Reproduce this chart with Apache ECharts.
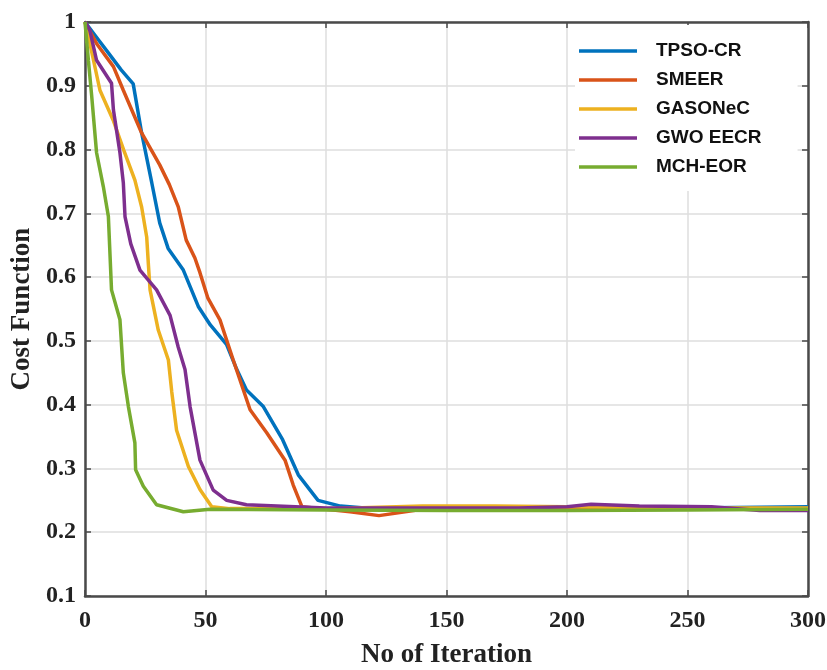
<!DOCTYPE html>
<html>
<head>
<meta charset="utf-8">
<script src="https://cdn.jsdelivr.net/npm/echarts@6/dist/echarts.min.js"></script>
<style>html,body{margin:0;padding:0;background:#fff;}#c{width:827px;height:670px;}</style>
</head>
<body>
<div id="c"></div>
<script>
const seriesNames = ['TPSO-CR', 'SMEER', 'GASONeC', 'GWO EECR', 'MCH-EOR'];
const colors = ['#0072BD', '#D95319', '#EDB120', '#7E2F8E', '#77AC30'];
const xTicks = [0, 50, 100, 150, 200, 250, 300];
const yTicks = [0.1, 0.2, 0.3, 0.4, 0.5, 0.6, 0.7, 0.8, 0.9, 1];

const tpsoX = [0, 5, 10, 15, 20, 23.5, 27.7, 31, 34.5, 40.8, 47, 52, 58.8, 63, 67, 74, 82, 88.5, 96.7, 106, 120, 150, 200, 250, 300];
const tpsoY = [1, 0.975, 0.95, 0.925, 0.903, 0.826, 0.748, 0.685, 0.645, 0.611, 0.554, 0.525, 0.494, 0.455, 0.423, 0.397, 0.345, 0.29, 0.25, 0.241, 0.237, 0.237, 0.237, 0.238, 0.24];

const smeerX = [0, 5, 11.8, 15.9, 23.5, 31, 35, 38.7, 42, 45.6, 47.7, 51, 56, 61.5, 68.5, 75.4, 83, 86.4, 90, 100, 110, 122, 140, 160, 200, 250, 300];
const smeerY = [1, 0.965, 0.93, 0.893, 0.826, 0.776, 0.745, 0.71, 0.658, 0.63, 0.607, 0.567, 0.533, 0.47, 0.392, 0.356, 0.313, 0.274, 0.24, 0.236, 0.232, 0.226, 0.236, 0.238, 0.238, 0.237, 0.237];

const gasoX = [0, 2, 6.2, 11.7, 16, 20.7, 23.5, 25.6, 26.3, 27, 30.4, 34.6, 36, 38, 42.9, 47.7, 52.6, 60, 100, 140, 170, 200, 250, 300];
const gasoY = [1, 0.967, 0.893, 0.846, 0.8, 0.752, 0.71, 0.663, 0.62, 0.58, 0.517, 0.47, 0.42, 0.36, 0.303, 0.267, 0.24, 0.237, 0.237, 0.241, 0.241, 0.24, 0.238, 0.238];

const gwoX = [0, 2, 4.8, 11, 11.8, 14.5, 15.9, 16.6, 19, 22.8, 29.7, 35.3, 38.7, 41.5, 43.6, 47.7, 53.2, 58.8, 67, 100, 180, 200, 210, 230, 260, 280, 300];
const gwoY = [1, 0.987, 0.94, 0.904, 0.862, 0.795, 0.748, 0.695, 0.652, 0.611, 0.58, 0.54, 0.49, 0.455, 0.397, 0.313, 0.266, 0.25, 0.243, 0.238, 0.238, 0.24, 0.244, 0.241, 0.24, 0.234, 0.234];

const mchX = [0, 1.4, 2.8, 4.8, 7.6, 9.7, 11, 14.5, 15.9, 18, 20.7, 21, 24.2, 29.7, 40.8, 51.9, 100, 150, 200, 250, 300];
const mchY = [1, 0.94, 0.883, 0.795, 0.742, 0.695, 0.58, 0.533, 0.45, 0.397, 0.34, 0.298, 0.272, 0.243, 0.232, 0.236, 0.235, 0.234, 0.234, 0.235, 0.236];

const allX = [tpsoX, smeerX, gasoX, gwoX, mchX];
const allY = [tpsoY, smeerY, gasoY, gwoY, mchY];

const chart = echarts.init(document.getElementById('c'), null, {renderer: 'canvas'});
const serif = '"Liberation Serif", "Times New Roman", serif';
const axisLineStyle = {color: '#4a4a4a', width: 2.5};
const gridStyle = {color: '#dedede', width: 1.5};

function baseX(pos, show) {
  return {
    type: 'value', position: pos, min: xTicks[0], max: xTicks[xTicks.length - 1], interval: 50,
    axisLine: {show: true, onZero: false, lineStyle: axisLineStyle},
    axisTick: {show: true, inside: true, length: 6, lineStyle: {color: '#4a4a4a', width: 1.5}},
    axisLabel: {show: show, margin: 13, fontFamily: serif, fontWeight: 'bold', fontSize: 24, color: '#222'},
    splitLine: {show: show, lineStyle: gridStyle}
  };
}
function baseY(pos, show) {
  return {
    type: 'value', position: pos, min: yTicks[0], max: yTicks[yTicks.length - 1], interval: 0.1,
    axisLine: {show: true, onZero: false, lineStyle: axisLineStyle},
    axisTick: {show: true, inside: true, length: 6, lineStyle: {color: '#4a4a4a', width: 1.5}},
    axisLabel: {show: show, margin: 9, fontFamily: serif, fontWeight: 'bold', fontSize: 24, color: '#222',
      formatter: v => String(+v.toFixed(1))},
    splitLine: {show: show, lineStyle: gridStyle}
  };
}

const xMain = Object.assign(baseX('bottom', true), {
  name: 'No of Iteration', nameLocation: 'middle', nameGap: 46,
  nameTextStyle: {fontFamily: serif, fontWeight: 'bold', fontSize: 27, color: '#222'}
});
const yMain = Object.assign(baseY('left', true), {
  name: 'Cost Function', nameLocation: 'middle', nameGap: 44,
  nameTextStyle: {fontFamily: serif, fontWeight: 'bold', fontSize: 27, color: '#222'}
});

chart.setOption({
  animation: false,
  backgroundColor: '#fff',
  color: colors,
  grid: {left: 85, right: 19, top: 22, bottom: 74, containLabel: false, outerBoundsMode: 'none'},
  legend: {
    orient: 'vertical', left: 575, top: 25,
    padding: [16, 36, 14, 4],
    backgroundColor: '#fff',
    itemWidth: 58, itemHeight: 20, itemGap: 9,
    icon: 'path://M0,8.25 L58,8.25 L58,11.75 L0,11.75 Z',
    textStyle: {fontFamily: '"Liberation Sans", Arial, sans-serif', fontWeight: 'bold', fontSize: 19, color: '#111',
      padding: [0, 0, 0, 14], lineHeight: 20},
    data: seriesNames.map((n, i) => ({name: n, itemStyle: {color: colors[i]}}))
  },
  xAxis: [xMain, baseX('top', false)],
  yAxis: [yMain, baseY('right', false)],
  series: seriesNames.map((n, i) => ({
    name: n, type: 'line', symbol: 'none', showSymbol: false,
    xAxisIndex: 0, yAxisIndex: 0,
    lineStyle: {width: 3.5, color: colors[i]},
    itemStyle: {color: colors[i]},
    data: allX[i].map((x, j) => [x, allY[i][j]])
  }))
});
</script>
</body>
</html>
